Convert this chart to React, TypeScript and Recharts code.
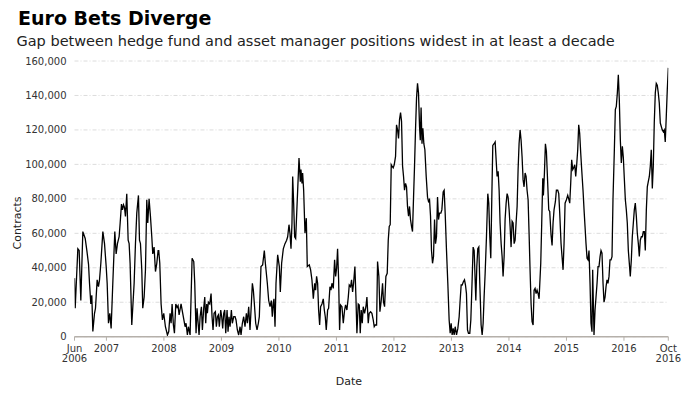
import React from 'react';
import { LineChart, Line, XAxis, YAxis, CartesianGrid } from 'recharts';

// [decimal year, contracts in thousands]
const y2006 = [
  [2006.445, 34], [2006.457, 16.5], [2006.503, 51], [2006.526, 50], [2006.555, 21], [2006.59, 61],
  [2006.631, 57], [2006.66, 50], [2006.689, 42], [2006.706, 31], [2006.729, 19], [2006.746, 24],
  [2006.764, 3], [2006.793, 13.6], [2006.81, 16.5], [2006.839, 33], [2006.862, 29], [2006.88, 33],
  [2006.903, 42.6], [2006.938, 61], [2006.967, 54], [2006.996, 40.7],
];
const y2007 = [
  [2007.013, 31], [2007.036, 7.8], [2007.059, 13.6], [2007.082, 4.8], [2007.111, 31], [2007.146, 61],
  [2007.169, 48], [2007.192, 54], [2007.221, 58], [2007.239, 66], [2007.262, 77], [2007.279, 73.6],
  [2007.297, 76.5], [2007.314, 75], [2007.331, 69.8], [2007.354, 83], [2007.378, 56], [2007.395, 54],
  [2007.412, 42.6], [2007.441, 6.8], [2007.482, 31], [2007.505, 54], [2007.528, 71.7], [2007.557, 82],
  [2007.575, 56], [2007.592, 54], [2007.615, 38.8], [2007.632, 16.5], [2007.656, 23], [2007.679, 38.8],
  [2007.702, 79.5], [2007.719, 66], [2007.742, 80], [2007.766, 69.8], [2007.789, 58], [2007.806, 48],
  [2007.829, 52], [2007.853, 37.8], [2007.876, 42.6], [2007.899, 50], [2007.91, 50], [2007.928, 42.6],
  [2007.951, 19], [2007.974, 9.7], [2007.997, 13.6],
];
const y2008 = [
  [2008.026, 5.8], [2008.061, 1], [2008.084, 3], [2008.107, 13.6], [2008.125, 7.8], [2008.142, 19],
  [2008.165, 6.8], [2008.183, 2], [2008.206, 19], [2008.229, 17], [2008.246, 18], [2008.264, 12.6],
  [2008.298, 19], [2008.327, 13.6], [2008.368, 5.8], [2008.385, 7.8], [2008.408, 1], [2008.426, 5.8],
  [2008.455, 1], [2008.49, 45.5], [2008.519, 43.6], [2008.536, 31], [2008.559, 2], [2008.576, 16.5],
  [2008.6, 5.8], [2008.611, 1], [2008.629, 11.6], [2008.652, 17.4], [2008.669, 3.9], [2008.692, 16.5],
  [2008.71, 23], [2008.727, 7.8], [2008.744, 19], [2008.756, 13.6], [2008.773, 20], [2008.797, 19],
  [2008.82, 25], [2008.837, 11.6], [2008.854, 3.9], [2008.872, 13.6], [2008.895, 14.5], [2008.912, 5.8],
  [2008.93, 11.6], [2008.947, 12.6], [2008.964, 5.8], [2008.988, 15.5],
];
const y2009 = [
  [2009.005, 11.6], [2009.022, 4.8], [2009.04, 13.6], [2009.057, 15.5], [2009.075, 2], [2009.098, 15.5],
  [2009.115, 2.9], [2009.132, 11.6], [2009.15, 5.8], [2009.173, 15.5], [2009.19, 7.8], [2009.214, 11.6],
  [2009.237, 11.6], [2009.254, 9.7], [2009.277, 3.9], [2009.3, 1], [2009.324, 5.8], [2009.341, 1],
  [2009.364, 7.8], [2009.387, 11.6], [2009.41, 5.8], [2009.434, 13.6], [2009.451, 7.8], [2009.474, 17.4],
  [2009.497, 3.9], [2009.515, 15.5], [2009.538, 31], [2009.555, 27], [2009.573, 19], [2009.596, 7.8],
  [2009.619, 3.9], [2009.642, 7.8], [2009.659, 11.6], [2009.688, 40.7], [2009.717, 41.7], [2009.746, 50],
  [2009.764, 42.6], [2009.798, 31], [2009.822, 21], [2009.845, 17.4], [2009.868, 21], [2009.885, 11.6],
  [2009.903, 20], [2009.914, 22], [2009.932, 5.8], [2009.949, 31], [2009.978, 47.5],
];
const y2010 = [
  [2010.007, 40.7], [2010.024, 26], [2010.047, 42.6], [2010.076, 51], [2010.105, 54], [2010.134, 56],
  [2010.152, 58], [2010.175, 65], [2010.192, 60], [2010.21, 51], [2010.227, 66], [2010.239, 93],
  [2010.256, 77.5], [2010.273, 58], [2010.291, 57], [2010.314, 75.6], [2010.349, 103.7], [2010.372, 90],
  [2010.383, 97], [2010.401, 89], [2010.412, 95], [2010.43, 85], [2010.453, 60], [2010.476, 68.8],
  [2010.493, 40.7], [2010.528, 41.7], [2010.551, 38.8], [2010.574, 33], [2010.598, 22], [2010.621, 31],
  [2010.638, 27], [2010.655, 35], [2010.673, 31], [2010.69, 15.5], [2010.708, 6.8], [2010.725, 17.4],
  [2010.748, 19], [2010.771, 22], [2010.789, 15.5], [2010.806, 11.6], [2010.823, 3.9], [2010.847, 15.5],
  [2010.864, 16.5], [2010.887, 29], [2010.905, 27], [2010.922, 31], [2010.945, 28], [2010.968, 44.6],
  [2010.986, 35],
];
const y2011 = [
  [2011.003, 39.7], [2011.02, 51], [2011.038, 33], [2011.055, 3.9], [2011.072, 18.4], [2011.096, 17.4],
  [2011.119, 7.8], [2011.142, 15.5], [2011.159, 18.4], [2011.182, 15.5], [2011.206, 23], [2011.223, 30],
  [2011.246, 29], [2011.263, 33], [2011.281, 26], [2011.298, 31], [2011.321, 40.7], [2011.339, 23],
  [2011.356, 2], [2011.379, 19], [2011.397, 18.4], [2011.414, 2], [2011.431, 15.5], [2011.449, 7.8],
  [2011.466, 17.4], [2011.489, 13.6], [2011.513, 17.4], [2011.53, 23], [2011.553, 7.8], [2011.57, 13.6],
  [2011.594, 14.5], [2011.617, 13.6], [2011.64, 9.7], [2011.657, 5.8], [2011.675, 6.8], [2011.698, 6.8],
  [2011.715, 43.6], [2011.738, 35], [2011.756, 14.5], [2011.779, 21], [2011.802, 31], [2011.819, 20],
  [2011.837, 17.4], [2011.86, 35], [2011.883, 36.8], [2011.901, 56], [2011.918, 64], [2011.935, 65],
  [2011.953, 99.8], [2011.97, 98.8], [2011.987, 98],
];
const y2012 = [
  [2012.005, 99.8], [2012.028, 104.6], [2012.045, 123], [2012.063, 120], [2012.08, 115], [2012.097, 126],
  [2012.115, 130], [2012.132, 125], [2012.15, 99], [2012.167, 93], [2012.184, 85], [2012.202, 89],
  [2012.219, 87], [2012.236, 75.6], [2012.254, 70], [2012.271, 75.6], [2012.288, 68], [2012.306, 64],
  [2012.323, 61], [2012.341, 81], [2012.358, 99], [2012.375, 120], [2012.393, 138.6], [2012.41, 147],
  [2012.427, 141.5], [2012.445, 122], [2012.458, 114], [2012.472, 133], [2012.488, 112], [2012.503, 121],
  [2012.52, 112], [2012.538, 108.5], [2012.561, 93], [2012.584, 81], [2012.601, 78.5], [2012.619, 79.5],
  [2012.636, 70], [2012.653, 50], [2012.671, 42.6], [2012.688, 46.5], [2012.706, 68], [2012.723, 54],
  [2012.74, 58], [2012.758, 81], [2012.775, 68], [2012.792, 71.7], [2012.816, 71.7], [2012.833, 73.6],
  [2012.856, 84], [2012.873, 85], [2012.891, 71.7], [2012.914, 50], [2012.937, 31], [2012.96, 9.7],
  [2012.978, 2], [2012.995, 7.8],
];
const y2013 = [
  [2013.012, 1], [2013.03, 4.8], [2013.047, 1], [2013.065, 5.8], [2013.088, 1], [2013.111, 4.8],
  [2013.134, 11.6], [2013.151, 21], [2013.169, 30], [2013.186, 30], [2013.209, 32], [2013.227, 33],
  [2013.244, 30], [2013.261, 25], [2013.279, 3.9], [2013.296, 2], [2013.319, 2], [2013.337, 9.7],
  [2013.354, 27], [2013.377, 52], [2013.395, 50], [2013.412, 33], [2013.424, 21], [2013.441, 40.7],
  [2013.458, 51], [2013.476, 52], [2013.493, 31], [2013.516, 6.8], [2013.534, 1], [2013.551, 7.8],
  [2013.568, 23], [2013.586, 36.8], [2013.609, 58], [2013.632, 83], [2013.649, 77.5], [2013.667, 58],
  [2013.684, 45.5], [2013.702, 81], [2013.719, 111], [2013.742, 112], [2013.76, 113], [2013.777, 102.7],
  [2013.794, 93], [2013.812, 96], [2013.829, 85], [2013.846, 66], [2013.864, 54], [2013.881, 46.5],
  [2013.898, 35], [2013.916, 46.5], [2013.933, 68], [2013.951, 77.5], [2013.968, 83], [2013.985, 81],
];
const y2014 = [
  [2014.003, 73.6], [2014.02, 64], [2014.037, 52], [2014.055, 67], [2014.072, 66], [2014.09, 54],
  [2014.107, 56], [2014.124, 66], [2014.142, 75.6], [2014.159, 97], [2014.176, 112], [2014.194, 120],
  [2014.211, 114], [2014.228, 104.6], [2014.246, 91], [2014.263, 87], [2014.281, 95], [2014.298, 93],
  [2014.315, 85], [2014.333, 79.5], [2014.35, 60], [2014.367, 38.8], [2014.385, 19], [2014.402, 8.7],
  [2014.42, 6.8], [2014.437, 27], [2014.454, 28], [2014.472, 25], [2014.489, 27], [2014.507, 25],
  [2014.524, 22], [2014.553, 42.6], [2014.57, 66], [2014.588, 92], [2014.599, 82], [2014.617, 95],
  [2014.634, 112], [2014.651, 107.6], [2014.669, 93], [2014.692, 73.6], [2014.709, 72.7], [2014.732, 59],
  [2014.75, 53], [2014.767, 66], [2014.784, 73.6], [2014.808, 78.5], [2014.825, 85], [2014.848, 85],
  [2014.866, 83], [2014.883, 71.7], [2014.906, 54], [2014.923, 46.5], [2014.941, 38.8], [2014.958, 54],
  [2014.976, 77.5], [2014.999, 79.5],
];
const y2015 = [
  [2015.022, 82], [2015.039, 80], [2015.057, 77.5], [2015.074, 89], [2015.091, 102.7], [2015.109, 97],
  [2015.126, 98], [2015.144, 99.8], [2015.161, 93], [2015.178, 99.8], [2015.196, 108.5], [2015.213, 123],
  [2015.23, 118], [2015.248, 106.6], [2015.265, 97], [2015.288, 85], [2015.306, 73.6], [2015.323, 64],
  [2015.34, 54], [2015.358, 45.5], [2015.375, 44.6], [2015.392, 50], [2015.41, 31], [2015.427, 7.8],
  [2015.444, 2.9], [2015.456, 38.8], [2015.468, 19], [2015.479, 1], [2015.497, 15.5], [2015.514, 23],
  [2015.532, 31], [2015.549, 40.7], [2015.566, 40.7], [2015.584, 46.5], [2015.601, 50], [2015.618, 48.5],
  [2015.636, 31], [2015.653, 20], [2015.671, 23], [2015.688, 29], [2015.705, 33], [2015.722, 31],
  [2015.74, 35], [2015.757, 44.6], [2015.775, 44.6], [2015.792, 46.5], [2015.809, 79.5], [2015.833, 108.5],
  [2015.85, 131.8], [2015.867, 133.7], [2015.885, 141.5], [2015.902, 152], [2015.919, 137.6], [2015.937, 114],
  [2015.954, 100.8], [2015.972, 110.5], [2015.989, 104],
];
const y2016 = [
  [2016.006, 92], [2016.024, 79.5], [2016.041, 73.6], [2016.058, 66], [2016.076, 50], [2016.093, 42.6],
  [2016.11, 35], [2016.128, 44.6], [2016.145, 58], [2016.163, 66], [2016.18, 73.6], [2016.197, 77.5],
  [2016.215, 70], [2016.232, 60], [2016.25, 54], [2016.267, 46.5], [2016.284, 56], [2016.302, 58],
  [2016.319, 58], [2016.336, 61], [2016.354, 61], [2016.371, 50], [2016.389, 73.6], [2016.406, 87],
  [2016.423, 90], [2016.441, 93], [2016.458, 99], [2016.475, 108.5], [2016.493, 86], [2016.51, 99],
  [2016.527, 124], [2016.545, 141.5], [2016.562, 147], [2016.579, 146], [2016.597, 141.5], [2016.614, 135.7],
  [2016.632, 124], [2016.649, 122], [2016.666, 120], [2016.684, 119], [2016.701, 120], [2016.718, 113],
  [2016.736, 128], [2016.753, 143], [2016.771, 156],
];

const xTicks = [2006.445, 2007, 2008, 2009, 2010, 2011, 2012, 2013, 2014, 2015, 2016, 2016.771];
const xTickLabels = [
  ['Jun', '2006'], ['2007'], ['2008'], ['2009'], ['2010'], ['2011'], ['2012'],
  ['2013'], ['2014'], ['2015'], ['2016'], ['Oct', '2016'],
];
const yTicks = [0, 20000, 40000, 60000, 80000, 100000, 120000, 140000, 160000];

const data = [y2006, y2007, y2008, y2009, y2010, y2011, y2012, y2013, y2014, y2015, y2016]
  .flat()
  .map(([t, v]) => ({ t, v: v * 1000 }));

const font = '"DejaVu Sans", Verdana, sans-serif';
const axisGray = '#b5b0aa';

function DateTick(props: any) {
  const { x, y, payload } = props;
  const idx = xTicks.indexOf(payload.value);
  const lines = xTickLabels[idx] || [];
  return (
    <g>
      {lines.map((s, i) => (
        <text key={i} x={x} y={y + 9.6 + i * 10} textAnchor="middle" fontSize={10} fontFamily={font} fill="#333">
          {s}
        </text>
      ))}
    </g>
  );
}

export default function App() {
  return (
    <div style={{ position: 'absolute', left: 0, top: 0, width: 700, height: 393, background: '#fff' }}>
      <LineChart
        width={700}
        height={393}
        data={data}
        margin={{ top: 61, right: 31.7, bottom: 0, left: 0 }}
      >
        <CartesianGrid vertical={false} stroke="#dcdcdc" strokeDasharray="4 2 1 2" />
        <XAxis
          dataKey="t"
          type="number"
          domain={[2006.445, 2016.771]}
          ticks={xTicks}
          interval={0}
          allowDataOverflow
          height={56.3}
          tickSize={4}
          tickMargin={2}
          stroke={axisGray}
          axisLine={{ stroke: axisGray, strokeWidth: 1.5 }}
          tickLine={{ stroke: axisGray }}
          tick={<DateTick />}
        />
        <YAxis
          type="number"
          domain={[0, 160000]}
          ticks={yTicks}
          width={74.5}
          axisLine={false}
          tickLine={false}
          tick={{ fontSize: 10, fontFamily: font, fill: '#333' }}
          tickFormatter={(v: number) => v.toLocaleString('en-US')}
        />
        <Line
          type="linear"
          dataKey="v"
          stroke="#000"
          strokeWidth={1.3}
          dot={false}
          isAnimationActive={false}
        />
      </LineChart>
      <svg width={700} height={393} style={{ position: 'absolute', left: 0, top: 0, pointerEvents: 'none' }}>
        <text x={18} y={25} fontSize={19} fontWeight="bold" fontFamily={font} fill="#000">
          Euro Bets Diverge
        </text>
        <text x={16.5} y={45.5} fontSize={14.5} fontFamily={font} fill="#222">
          Gap between hedge fund and asset manager positions widest in at least a decade
        </text>
        <text
          x={0}
          y={0}
          transform="translate(21,223) rotate(-90)"
          textAnchor="middle"
          fontSize={11}
          fontFamily={font}
          fill="#222"
        >
          Contracts
        </text>
        <text x={349} y={385} textAnchor="middle" fontSize={11} fontFamily={font} fill="#222">
          Date
        </text>
      </svg>
    </div>
  );
}
